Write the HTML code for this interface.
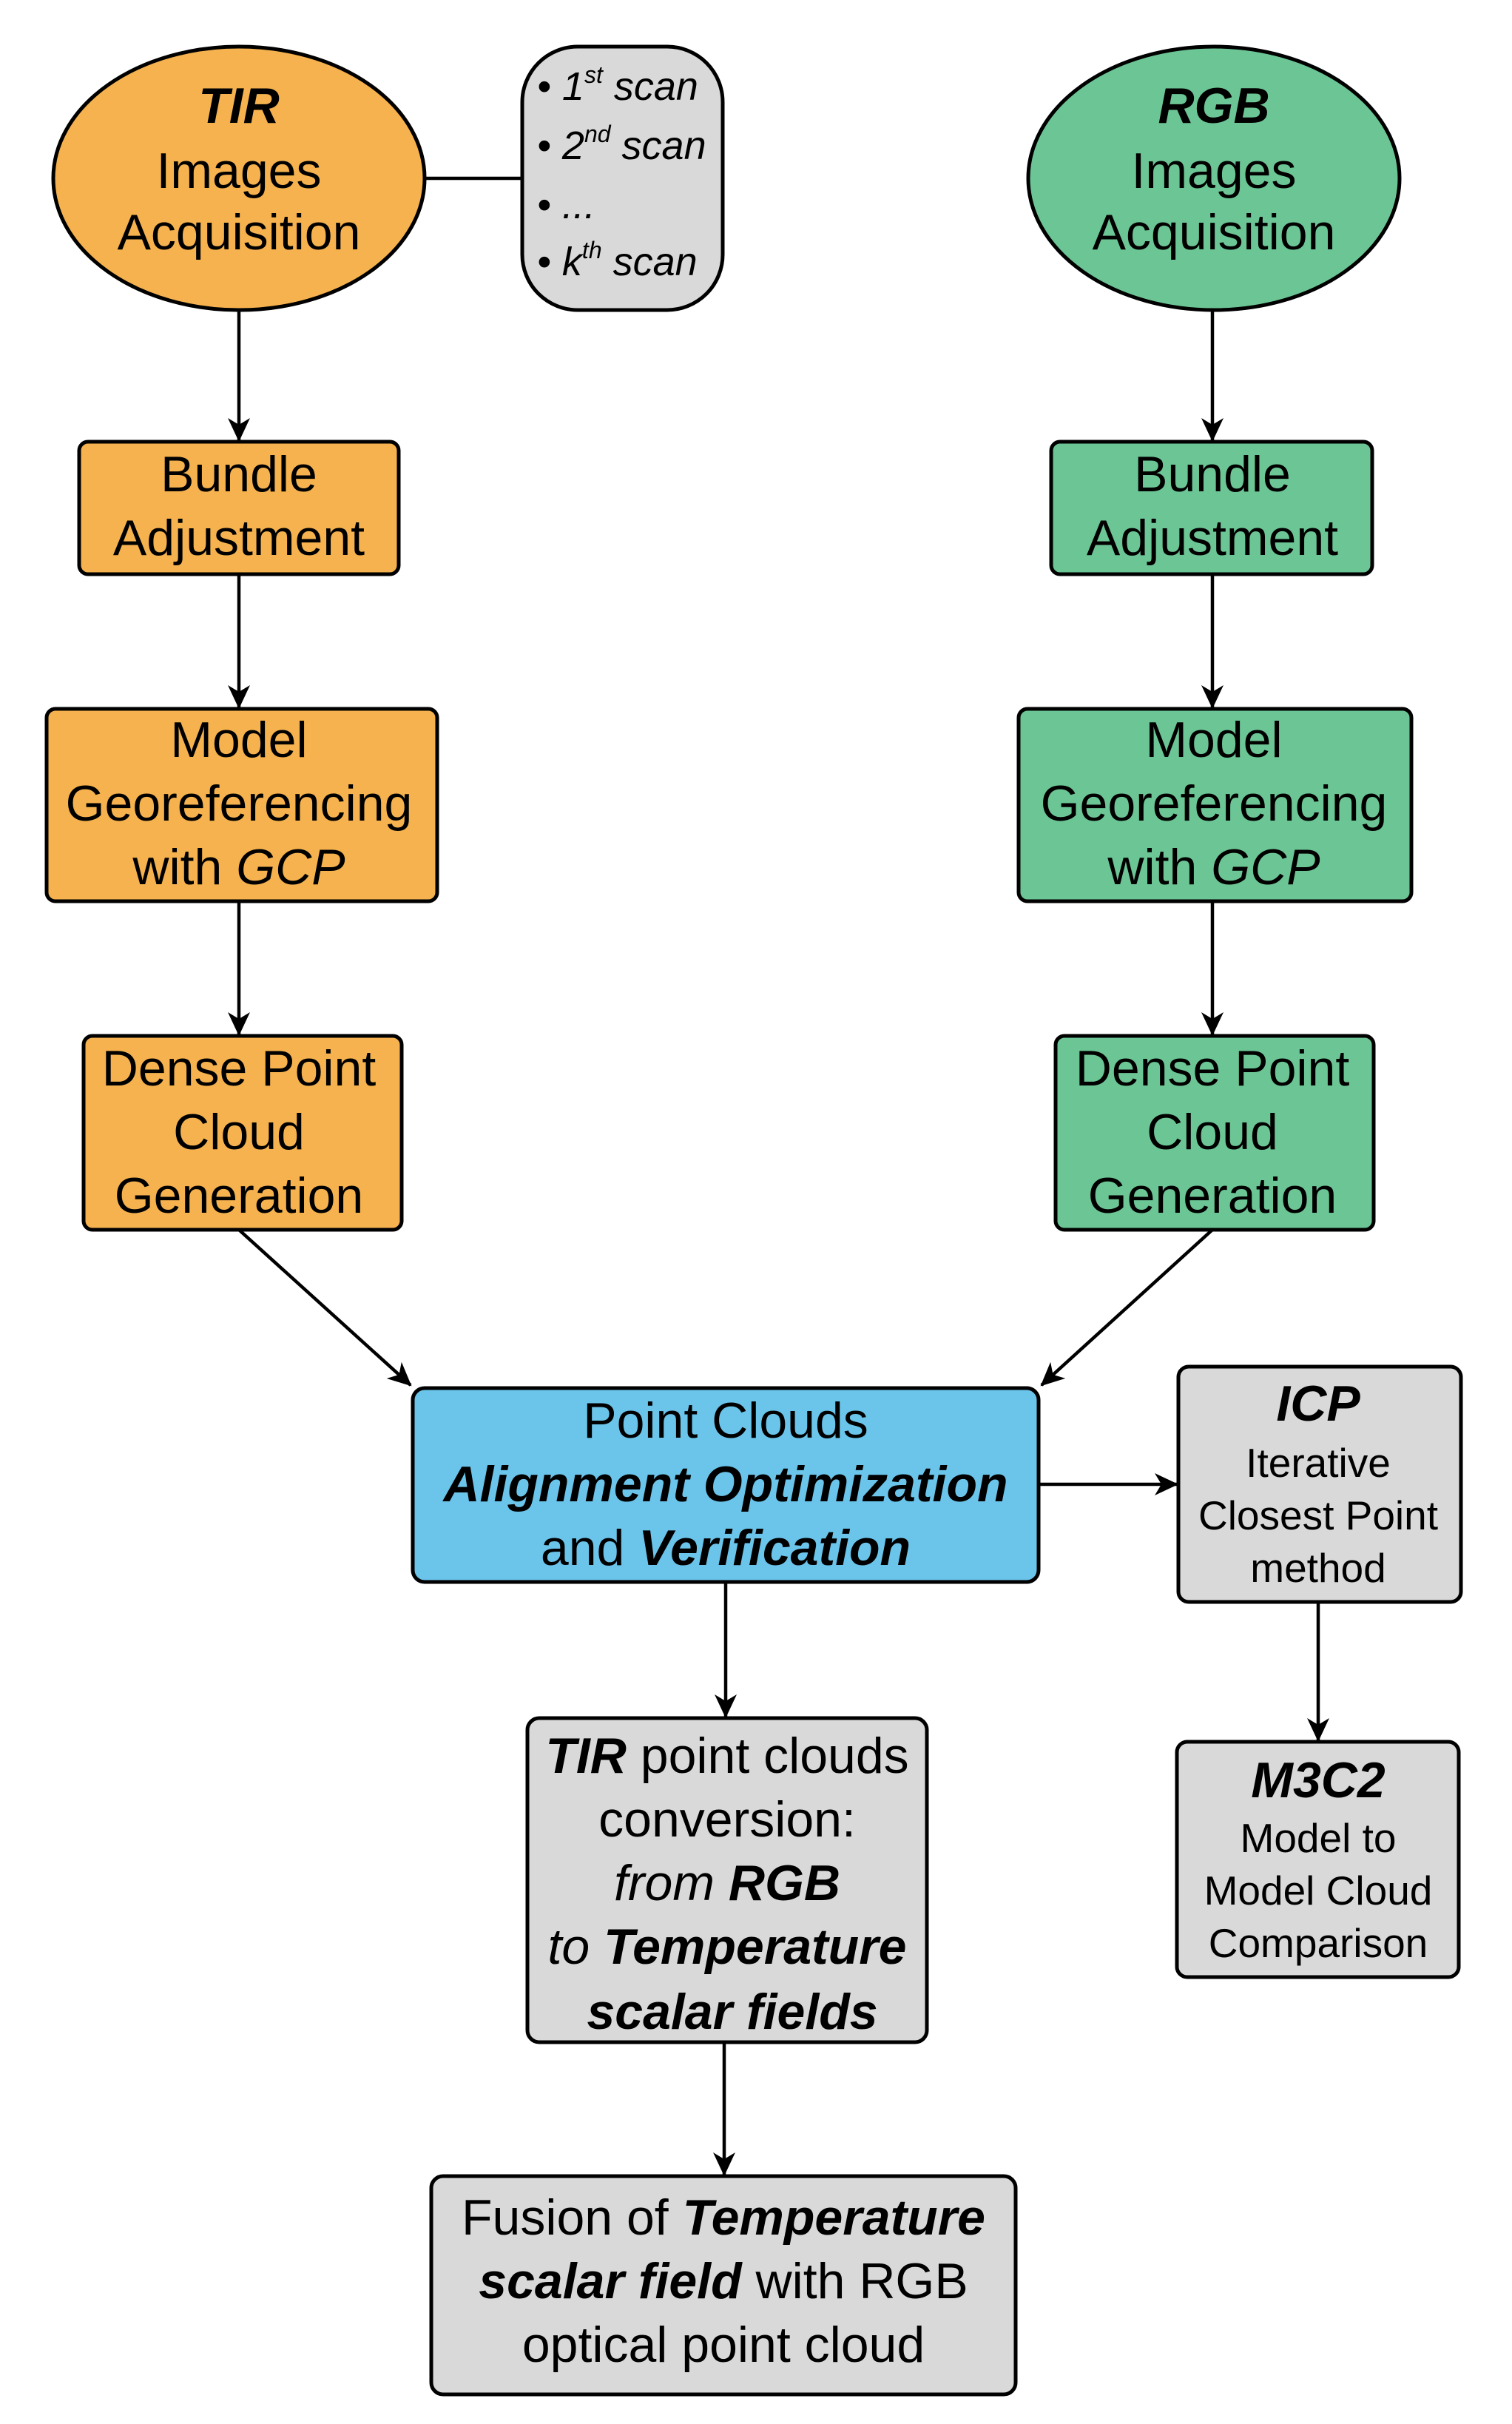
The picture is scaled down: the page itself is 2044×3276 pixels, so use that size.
<!DOCTYPE html>
<html><head><meta charset="utf-8"><style>
html,body{margin:0;padding:0;background:#fff}
svg text{font-family:"Liberation Sans",sans-serif;fill:#000}
</style></head><body>
<svg width="2044" height="3271" viewBox="0 0 2044 3271" xmlns="http://www.w3.org/2000/svg">
<defs><marker id="a" markerWidth="10" markerHeight="10" refX="9" refY="5" orient="auto" markerUnits="userSpaceOnUse" viewBox="0 0 10 10"><path d="M0,0 L10,5 L0,10 L3,5 z" fill="#000"/></marker>
<marker id="b" markerWidth="34" markerHeight="34" refX="30" refY="17" orient="auto" markerUnits="userSpaceOnUse"><path d="M0,2 L32,17 L0,32 L9,17 z" fill="#000"/></marker></defs>
<g stroke="#000" stroke-width="4.5" fill="none">
<line x1="574" y1="241" x2="706" y2="241"/>
<line x1="323" y1="419" x2="323" y2="595" marker-end="url(#b)"/>
<line x1="323" y1="776" x2="323" y2="956" marker-end="url(#b)"/>
<line x1="323" y1="1218" x2="323" y2="1398" marker-end="url(#b)"/>
<line x1="1639" y1="419" x2="1639" y2="595" marker-end="url(#b)"/>
<line x1="1639" y1="776" x2="1639" y2="956" marker-end="url(#b)"/>
<line x1="1639" y1="1218" x2="1639" y2="1398" marker-end="url(#b)"/>
<line x1="323" y1="1662" x2="555" y2="1872" marker-end="url(#b)"/>
<line x1="1639" y1="1662" x2="1408" y2="1872" marker-end="url(#b)"/>
<line x1="1404" y1="2006" x2="1591" y2="2006" marker-end="url(#b)"/>
<line x1="1782" y1="2165" x2="1782" y2="2352" marker-end="url(#b)"/>
<line x1="981" y1="2138" x2="981" y2="2320" marker-end="url(#b)"/>
<line x1="979" y1="2760" x2="979" y2="2939" marker-end="url(#b)"/>
</g>
<g stroke="#000" stroke-width="5">
<ellipse cx="323" cy="241" rx="251" ry="178" fill="#F5B24E"/>
<ellipse cx="1641" cy="241" rx="251" ry="178" fill="#6CC594"/>
<rect x="706" y="63" width="271" height="356" rx="75" fill="#D9D9D9"/>
<rect x="107" y="597" width="432" height="179" rx="12" fill="#F5B24E"/>
<rect x="1421" y="597" width="434" height="179" rx="12" fill="#6CC594"/>
<rect x="63" y="958" width="528" height="260" rx="12" fill="#F5B24E"/>
<rect x="1377" y="958" width="531" height="260" rx="12" fill="#6CC594"/>
<rect x="113" y="1400" width="430" height="262" rx="12" fill="#F5B24E"/>
<rect x="1427" y="1400" width="430" height="262" rx="12" fill="#6CC594"/>
<rect x="558" y="1876" width="846" height="262" rx="16" fill="#6BC4EA"/>
<rect x="1593" y="1847" width="382" height="318" rx="14" fill="#D9D9D9"/>
<rect x="1591" y="2354" width="381" height="318" rx="14" fill="#D9D9D9"/>
<rect x="713" y="2322" width="540" height="438" rx="16" fill="#D9D9D9"/>
<rect x="583" y="2941" width="790" height="295" rx="16" fill="#D9D9D9"/>
</g>
<g font-size="68" text-anchor="middle" dominant-baseline="central">
<text x="323" y="143" font-weight="bold" font-style="italic">TIR</text>
<text x="323" y="231">Images</text>
<text x="323" y="314">Acquisition</text>
<text x="1641" y="143" font-weight="bold" font-style="italic">RGB</text>
<text x="1641" y="231">Images</text>
<text x="1641" y="314">Acquisition</text>
<text x="323" y="641">Bundle</text><text x="323" y="727">Adjustment</text>
<text x="1639" y="641">Bundle</text><text x="1639" y="727">Adjustment</text>
<text x="323" y="1000">Model</text><text x="323" y="1086">Georeferencing</text><text x="323" y="1172">with <tspan font-style="italic">GCP</tspan></text>
<text x="1641" y="1000">Model</text><text x="1641" y="1086">Georeferencing</text><text x="1641" y="1172">with <tspan font-style="italic">GCP</tspan></text>
<text x="323" y="1444">Dense Point</text><text x="323" y="1530">Cloud</text><text x="323" y="1616">Generation</text>
<text x="1639" y="1444">Dense Point</text><text x="1639" y="1530">Cloud</text><text x="1639" y="1616">Generation</text>
<text x="981" y="1920">Point Clouds</text>
<text x="981" y="2006" font-weight="bold" font-style="italic">Alignment Optimization</text>
<text x="981" y="2092">and <tspan font-weight="bold" font-style="italic">Verification</tspan></text>
<text x="1782" y="1897" font-weight="bold" font-style="italic">ICP</text>
<text x="1782" y="2406" font-weight="bold" font-style="italic">M3C2</text>
<text x="983" y="2373"><tspan font-weight="bold" font-style="italic">TIR</tspan> point clouds</text>
<text x="983" y="2459">conversion:</text>
<text x="983" y="2545" font-style="italic">from <tspan font-weight="bold">RGB</tspan></text>
<text x="983" y="2631" font-style="italic">to <tspan font-weight="bold">Temperature</tspan></text>
<text x="990" y="2719" font-weight="bold" font-style="italic">scalar fields</text>
<text x="978" y="2997">Fusion of <tspan font-weight="bold" font-style="italic">Temperature</tspan></text>
<text x="978" y="3083"><tspan font-weight="bold" font-style="italic">scalar field</tspan> with RGB</text>
<text x="978" y="3169">optical point cloud</text>
</g>
<g font-size="55" text-anchor="middle" dominant-baseline="central">
<text x="1782" y="1977">Iterative</text><text x="1782" y="2048">Closest Point</text><text x="1782" y="2119">method</text>
<text x="1782" y="2484">Model to</text><text x="1782" y="2555">Model Cloud</text><text x="1782" y="2626">Comparison</text>
</g>
<g font-size="54" font-style="italic" dominant-baseline="central">
<text x="726" y="117">• 1<tspan font-size="32" dy="-16">st</tspan><tspan dy="16"> scan</tspan></text>
<text x="726" y="197">• 2<tspan font-size="32" dy="-16">nd</tspan><tspan dy="16"> scan</tspan></text>
<text x="726" y="277">• ...</text>
<text x="726" y="354">• k<tspan font-size="32" dy="-16">th</tspan><tspan dy="16"> scan</tspan></text>
</g>
</svg>
</body></html>
